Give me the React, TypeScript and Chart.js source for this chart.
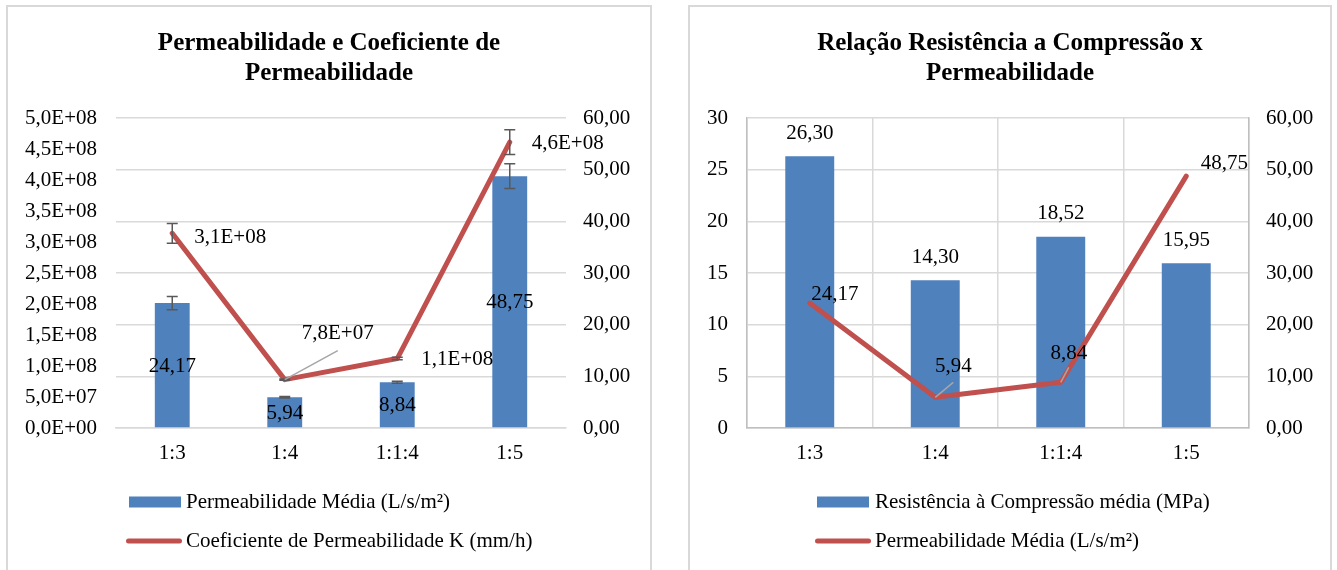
import React, { useEffect, useRef } from "react";
import { Chart, registerables } from "chart.js";
Chart.register(...registerables);

// ---------- data ----------
const categories = ["1:3", "1:4", "1:1:4", "1:5"];

// Chart 1: Permeabilidade e Coeficiente de Permeabilidade
const permeabilidadeMedia = [24.17, 5.94, 8.84, 48.75]; // L/s/m²
const permeabilidadeMediaErr = [1.3, 0.15, 0.2, 2.4];
const coeficienteK = [3.14e8, 7.8e7, 1.12e8, 4.61e8]; // mm/h
const coeficienteKErr = [1.6e7, 1.0e6, 2.0e6, 2.0e7];

// Chart 2: Relação Resistência a Compressão x Permeabilidade
const resistenciaCompressao = [26.3, 14.3, 18.52, 15.95]; // MPa

// axis ranges
const c1LeftAxis = { min: 0, max: 5e8, step: 5e7 };
const c1RightAxis = { min: 0, max: 60, step: 10 };
const c2LeftAxis = { min: 0, max: 30, step: 5 };
const c2RightAxis = { min: 0, max: 60, step: 10 };

const titles1 = ["Permeabilidade e Coeficiente de", "Permeabilidade"];
const titles2 = ["Relação Resistência a Compressão x", "Permeabilidade"];
const legend1 = ["Permeabilidade Média (L/s/m²)", "Coeficiente de Permeabilidade K (mm/h)"];
const legend2 = ["Resistência à Compressão média (MPa)", "Permeabilidade Média (L/s/m²)"];

// ---------- styles ----------
const FONT = "'Liberation Serif', 'Times New Roman', serif";
const FS = 21;
const TITLE_FS = 25;
const BLUE = "#4f81bd";
const RED = "#c0504d";
const GRID = "#d9d9d9";
const AXIS = "#bfbfbf";
const TXT = "#000000";

const fmtComma2 = (v: number) => v.toFixed(2).replace(".", ",");
const fmtExp = (v: number) => {
  const [m, e] = v.toExponential(1).split("e");
  const n = parseInt(e, 10);
  return m.replace(".", ",") + "E" + (n < 0 ? "-" : "+") + String(Math.abs(n)).padStart(2, "0");
};

type LabelPos = { dx: number; dy: number; leader?: { dx: number; dy: number } };

type Cfg = {
  titles: string[];
  legend: string[];
  legendX: { box: [number, number]; line: [number, number]; text: number };
  barData: number[];
  barAxis: "y" | "y1";
  lineData: number[];
  lineAxis: "y" | "y1";
  barErr?: number[];
  lineErr?: number[];
  barLabelMode: "center" | "above";
  barLabelFmt: (v: number) => string;
  lineLabelFmt: (v: number) => string;
  lineLabelPos: LabelPos[];
  leftW: number;
  rightW: number;
  barPct: number;
  leftAxis: { min: number; max: number; step: number };
  rightAxis: { min: number; max: number; step: number };
  leftFmt: (v: number) => string;
  rightFmt: (v: number) => string;
  gridOn: "y" | "y1";
  boxed: boolean;
};

function buildConfig(cfg: Cfg): any {
  const overlay = {
    id: "overlay",
    afterDraw(chart: any) {
      const ctx = chart.ctx as CanvasRenderingContext2D;
      const W = chart.width;
      ctx.save();
      // title
      ctx.fillStyle = TXT;
      ctx.font = `bold ${TITLE_FS}px ${FONT}`;
      ctx.textAlign = "center";
      ctx.textBaseline = "middle";
      cfg.titles.forEach((t, i) => ctx.fillText(t, W / 2, 37 + i * 30));

      const barMeta = chart.getDatasetMeta(0);
      const lineMeta = chart.getDatasetMeta(1);
      const barScale = chart.scales[cfg.barAxis];
      const lineScale = chart.scales[cfg.lineAxis];

      // error bars
      ctx.strokeStyle = "#595959";
      ctx.lineWidth = 1.5;
      const drawErr = (x: number, v: number, e: number, sc: any) => {
        const yt = sc.getPixelForValue(v + e);
        const yb = sc.getPixelForValue(v - e);
        ctx.beginPath();
        ctx.moveTo(x, yt);
        ctx.lineTo(x, yb);
        ctx.moveTo(x - 5.5, yt);
        ctx.lineTo(x + 5.5, yt);
        ctx.moveTo(x - 5.5, yb);
        ctx.lineTo(x + 5.5, yb);
        ctx.stroke();
      };
      if (cfg.barErr) cfg.barData.forEach((v, i) => drawErr(barMeta.data[i].x, v, cfg.barErr![i], barScale));
      if (cfg.lineErr) cfg.lineData.forEach((v, i) => drawErr(lineMeta.data[i].x, v, cfg.lineErr![i], lineScale));

      // data labels
      ctx.font = `${FS}px ${FONT}`;
      ctx.fillStyle = TXT;
      ctx.textAlign = "center";
      ctx.textBaseline = "middle";
      cfg.barData.forEach((v, i) => {
        const el = barMeta.data[i];
        const y = cfg.barLabelMode === "center" ? (el.y + el.base) / 2 + 1 : el.y - 23;
        ctx.fillText(cfg.barLabelFmt(v), el.x, y);
      });
      cfg.lineData.forEach((v, i) => {
        const el = lineMeta.data[i];
        const p = cfg.lineLabelPos[i];
        const t = cfg.lineLabelFmt(v);
        const lx = el.x + p.dx;
        const ly = el.y + p.dy;
        if (p.leader) {
          ctx.strokeStyle = "#a6a6a6";
          ctx.lineWidth = 1.5;
          ctx.beginPath();
          ctx.moveTo(el.x, el.y);
          ctx.lineTo(lx + p.leader.dx, ly + p.leader.dy);
          ctx.stroke();
        }
        ctx.fillStyle = TXT;
        ctx.fillText(t, lx, ly);
      });

      // legend
      const rows = [495, 534];
      ctx.fillStyle = BLUE;
      ctx.fillRect(cfg.legendX.box[0], rows[0] - 5.5, cfg.legendX.box[1] - cfg.legendX.box[0], 11);
      ctx.strokeStyle = RED;
      ctx.lineWidth = 5;
      ctx.lineCap = "round";
      ctx.beginPath();
      ctx.moveTo(cfg.legendX.line[0] + 2.5, rows[1]);
      ctx.lineTo(cfg.legendX.line[1] - 2.5, rows[1]);
      ctx.stroke();
      ctx.fillStyle = TXT;
      ctx.font = `${FS}px ${FONT}`;
      ctx.textAlign = "left";
      ctx.textBaseline = "middle";
      chart.data.datasets.forEach((ds: any, i: number) => ctx.fillText(ds.label, cfg.legendX.text, rows[i]));
      ctx.restore();
    },
  };

  const tickFont = { family: FONT, size: FS };
  const axisY = (pos: "left" | "right", a: any, fmt: any, width: number, grid: boolean) => ({
    type: "linear",
    position: pos,
    min: a.min,
    max: a.max,
    afterFit: (s: any) => {
      s.width = width;
    },
    ticks: {
      stepSize: a.step,
      autoSkip: false,
      color: TXT,
      font: tickFont,
      padding: pos === "left" ? 19 : 17,
      callback: (v: any) => fmt(Number(v)),
    },
    grid: { display: grid, color: GRID, lineWidth: 1.5, drawTicks: false },
    border: { display: cfg.boxed, color: AXIS, width: 1.5 },
  });

  return {
    type: "bar",
    data: {
      labels: categories,
      datasets: [
        {
          type: "bar",
          label: cfg.legend[0],
          data: cfg.barData,
          yAxisID: cfg.barAxis,
          backgroundColor: BLUE,
          barPercentage: cfg.barPct,
          categoryPercentage: 1,
          order: 2,
        },
        {
          type: "line",
          label: cfg.legend[1],
          data: cfg.lineData,
          yAxisID: cfg.lineAxis,
          borderColor: RED,
          backgroundColor: RED,
          borderWidth: 5,
          pointRadius: 0,
          tension: 0,
          borderCapStyle: "round",
          borderJoinStyle: "round",
          order: 1,
        },
      ],
    },
    options: {
      responsive: false,
      animation: false,
      layout: { padding: { top: 111, bottom: 102, left: 0, right: 0 } },
      plugins: { legend: { display: false }, title: { display: false }, tooltip: { enabled: false } },
      scales: {
        x: {
          type: "category",
          offset: true,
          afterFit: (s: any) => {
            s.height = 40;
          },
          ticks: { color: TXT, font: tickFont, padding: 13, maxRotation: 0 },
          grid: { display: cfg.boxed, color: GRID, lineWidth: 1.5, drawTicks: false, offset: true },
          border: { display: true, color: cfg.boxed ? AXIS : GRID, width: 1.5 },
        },
        y: axisY("left", cfg.leftAxis, cfg.leftFmt, cfg.leftW, cfg.gridOn === "y"),
        y1: axisY("right", cfg.rightAxis, cfg.rightFmt, cfg.rightW, cfg.gridOn === "y1"),
      },
    },
    plugins: [overlay],
  };
}

function Panel({ left, width, cfg }: { left: number; width: number; cfg: Cfg }) {
  const ref = useRef<HTMLCanvasElement>(null);
  useEffect(() => {
    const chart = new Chart(ref.current!, buildConfig(cfg));
    return () => chart.destroy();
  }, []);
  return (
    <div
      style={{
        position: "absolute",
        left,
        top: 5,
        width,
        height: 565,
        border: "2px solid #d9d9d9",
        borderBottom: "none",
        boxSizing: "border-box",
        background: "#fff",
      }}
    >
      <canvas ref={ref} width={width - 4} height={563} style={{ display: "block", width: width - 4, height: 563 }} />
    </div>
  );
}

const cfg1: Cfg = {
  titles: titles1,
  legend: legend1,
  legendX: { box: [121, 173], line: [118, 174], text: 178 },
  barData: permeabilidadeMedia,
  barAxis: "y1",
  lineData: coeficienteK,
  lineAxis: "y",
  barErr: permeabilidadeMediaErr,
  lineErr: coeficienteKErr,
  barLabelMode: "center",
  barLabelFmt: fmtComma2,
  lineLabelFmt: fmtExp,
  lineLabelPos: [
    { dx: 58, dy: 4 },
    { dx: 53, dy: -46, leader: { dx: 0, dy: 17 } },
    { dx: 60, dy: 1 },
    { dx: 58, dy: 1 },
  ],
  leftW: 108,
  rightW: 84,
  barPct: 0.31,
  leftAxis: c1LeftAxis,
  rightAxis: c1RightAxis,
  leftFmt: fmtExp,
  rightFmt: fmtComma2,
  gridOn: "y1",
  boxed: false,
};

const cfg2: Cfg = {
  titles: titles2,
  legend: legend2,
  legendX: { box: [127, 179], line: [125, 181], text: 185 },
  barData: resistenciaCompressao,
  barAxis: "y",
  lineData: permeabilidadeMedia,
  lineAxis: "y1",
  barLabelMode: "above",
  barLabelFmt: fmtComma2,
  lineLabelFmt: fmtComma2,
  lineLabelPos: [
    { dx: 25, dy: -9 },
    { dx: 18, dy: -31, leader: { dx: 0, dy: 16 } },
    { dx: 8, dy: -29, leader: { dx: 0, dy: 14 } },
    { dx: 38, dy: -13 },
  ],
  leftW: 57,
  rightW: 81,
  barPct: 0.39,
  leftAxis: c2LeftAxis,
  rightAxis: c2RightAxis,
  leftFmt: (v: number) => String(v),
  rightFmt: fmtComma2,
  gridOn: "y",
  boxed: true,
};

export default function App() {
  return (
    <div>
      <Panel left={6} width={646} cfg={cfg1} />
      <Panel left={688} width={644} cfg={cfg2} />
    </div>
  );
}
